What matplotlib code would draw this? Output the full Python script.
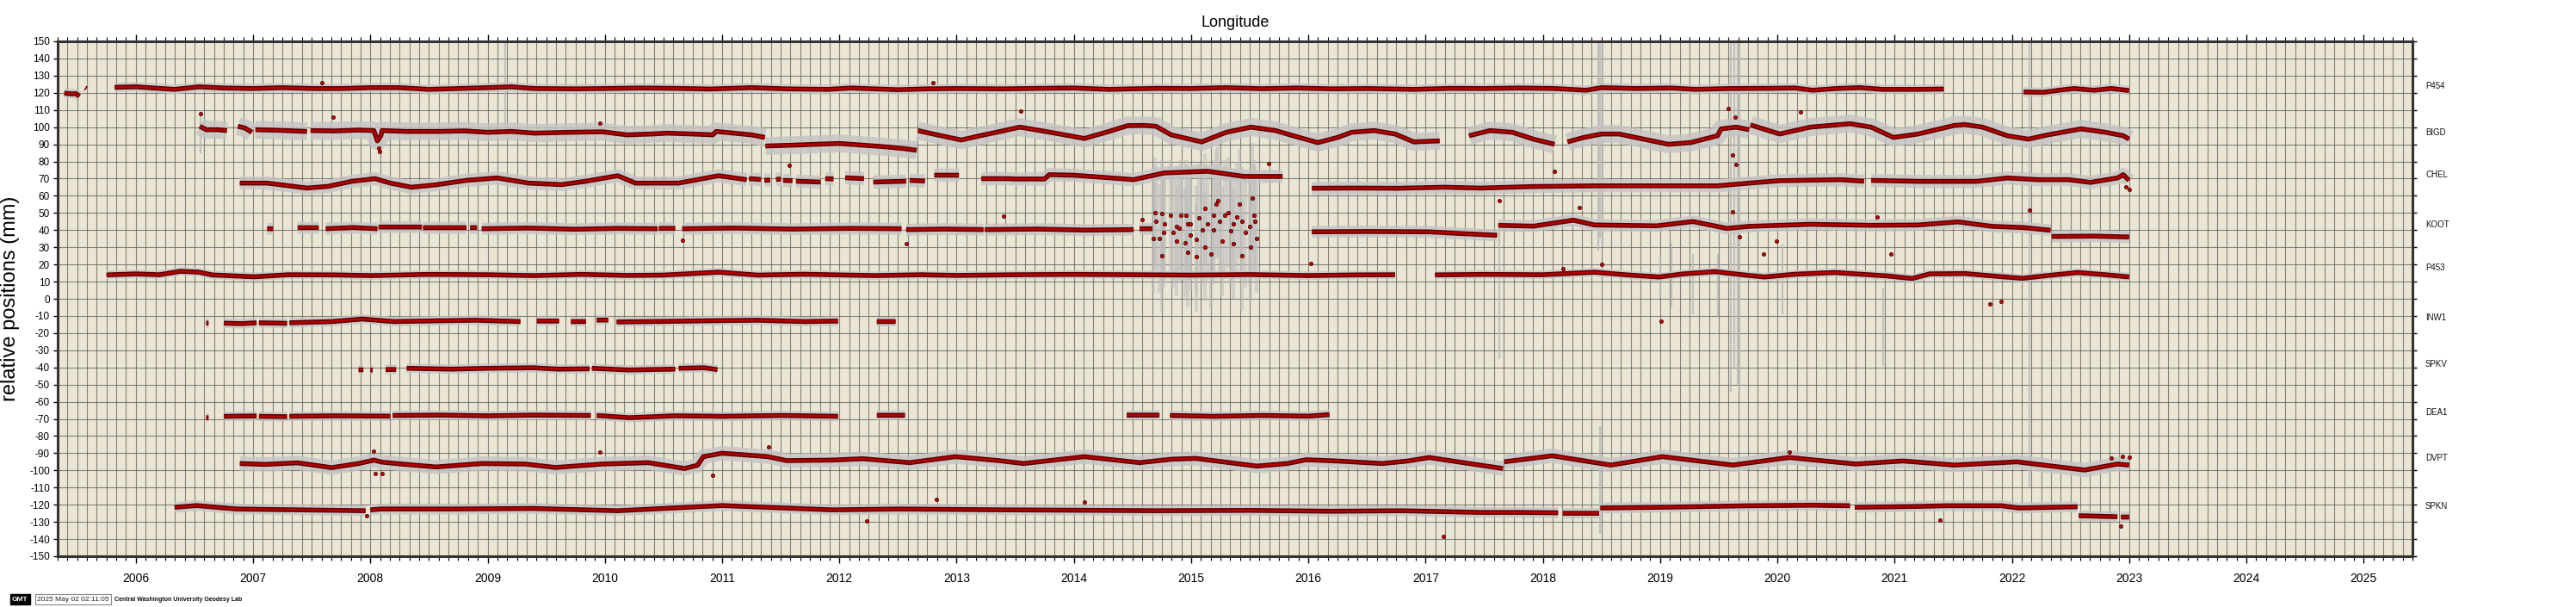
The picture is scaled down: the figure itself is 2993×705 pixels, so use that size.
import matplotlib
matplotlib.use("Agg")
import matplotlib.pyplot as plt
import numpy as np

nan = np.nan

# ---- station time series (decimal year, mm), nan = gap ----
p454_t = [2005.39, 2005.45, 2005.49, 2005.52, nan, 2005.57, 2005.58, nan,
          2005.82, 2006.0, 2006.15, 2006.33, 2006.54, 2006.75, 2007.0, 2007.25, 2007.5, 2007.75,
          2008.0, 2008.25, 2008.5, 2008.75, 2009.0, 2009.2, 2009.4, 2009.75, 2010.0, 2010.3,
          2010.6, 2010.9, 2011.25, 2011.55, 2011.9, 2012.1, 2012.5, 2012.75, 2013.0, 2013.4,
          2013.7, 2014.0, 2014.3, 2014.7, 2015.0, 2015.3, 2015.6, 2015.9, 2016.2, 2016.5,
          2016.9, 2017.2, 2017.5, 2017.8, 2018.1, 2018.37, 2018.5, 2018.8, 2019.1, 2019.3,
          2019.6, 2019.9, 2020.15, 2020.3, 2020.5, 2020.7, 2020.9, 2021.2, 2021.42, nan,
          2022.1, 2022.27, 2022.4, 2022.53, 2022.7, 2022.85, 2023.0]
p454_v = [119.8, 119.4, 119.5, 118.0, nan, 123.0, 122.6, nan,
          123.2, 123.5, 122.8, 122.0, 123.5, 122.8, 122.5, 123.0, 122.5, 122.5,
          123.0, 123.0, 122.0, 122.5, 123.0, 123.5, 122.5, 122.3, 122.5, 122.8,
          122.6, 122.2, 123.0, 122.3, 122.0, 122.8, 121.8, 122.3, 122.5, 122.3,
          122.6, 122.8, 122.0, 122.6, 122.5, 123.0, 122.4, 122.8, 122.3, 122.5,
          122.0, 122.6, 122.5, 122.8, 122.5, 121.5, 123.0, 122.5, 122.8, 122.0,
          122.5, 122.6, 122.8, 121.5, 122.5, 123.0, 122.0, 122.0, 122.2, nan,
          120.5, 120.3, 121.5, 122.5, 121.5, 122.5, 121.3]

bigd_t = [2006.545, 2006.6, 2006.7, 2006.777, nan, 2006.87, 2006.93, 2006.99, nan,
          2007.02, 2007.2, 2007.46, nan, 2007.49, 2007.7, 2007.9, 2008.03, 2008.06, 2008.09,
          2008.1, 2008.3, 2008.6, 2008.8, 2009.0, 2009.2, 2009.4, 2009.7, 2009.98, 2010.19,
          2010.4, 2010.53, 2010.75, 2010.92, 2010.95, 2011.1, 2011.25, 2011.365, nan,
          2011.37, 2011.6, 2011.8, 2012.0, 2012.2, 2012.4, 2012.55, 2012.66, nan,
          2012.67, 2012.8, 2013.04, 2013.2, 2013.36, 2013.54, 2013.8, 2014.09, 2014.3, 2014.46,
          2014.6, 2014.7, 2014.83, 2015.09, 2015.3, 2015.51, 2015.72, 2015.87, 2016.08, 2016.25,
          2016.37, 2016.56, 2016.74, 2016.9, 2017.12, nan, 2017.37, 2017.55, 2017.74, 2017.92,
          2018.1, nan, 2018.21, 2018.35, 2018.5, 2018.65, 2018.86, 2019.07, 2019.26, 2019.49,
          2019.52, 2019.65, 2019.76, nan, 2019.77, 2020.02, 2020.28, 2020.62, 2020.8, 2020.99,
          2021.2, 2021.51, 2021.6, 2021.75, 2021.96, 2022.14, 2022.3, 2022.59, 2022.8, 2022.95, 2023.0]
bigd_v = [100.5, 98.5, 98.5, 98.0, nan, 100.5, 99.5, 97.0, nan,
          98.5, 98.2, 97.5, nan, 98.0, 97.8, 98.3, 98.0, 92.0, 95.0,
          98.0, 97.5, 97.5, 97.8, 97.0, 97.5, 96.5, 97.0, 97.3, 95.5,
          96.0, 96.5, 96.0, 95.5, 97.5, 96.5, 95.5, 94.0, nan,
          89.0, 89.5, 90.0, 90.5, 89.5, 88.5, 87.5, 86.5, nan,
          98.0, 96.0, 92.5, 95.0, 97.3, 100.0, 97.0, 93.4, 97.5, 100.9,
          101.0, 100.5, 95.5, 91.4, 97.0, 100.0, 98.0, 95.0, 91.0, 94.0,
          97.0, 98.0, 96.0, 91.4, 92.0, nan, 95.0, 98.0, 97.0, 93.0,
          90.0, nan, 91.4, 94.0, 96.0, 96.0, 93.0, 90.0, 91.0, 95.0,
          99.0, 100.0, 98.5, nan, 101.3, 96.0, 100.0, 102.0, 100.0, 94.0,
          96.0, 101.0, 101.5, 100.0, 95.0, 93.0, 95.4, 99.0, 97.0, 95.0, 93.0]

chel_t = [2006.887, 2007.12, 2007.46, 2007.64, 2007.84, 2008.04, 2008.17, 2008.35, 2008.56,
          2008.82, 2009.08, 2009.35, 2009.63, 2009.84, 2010.11, 2010.26, 2010.63, 2010.97, 2011.21, nan,
          2011.23, 2011.33, nan, 2011.36, 2011.41, nan, 2011.46, 2011.5, nan, 2011.52, 2011.6, nan,
          2011.63, 2011.84, nan, 2011.88, 2011.95, nan, 2012.05, 2012.21, nan, 2012.29, 2012.57, nan,
          2012.6, 2012.73, nan, 2012.81, 2013.02, nan, 2013.21, 2013.43, 2013.51, 2013.75, 2013.79,
          2014.0, 2014.3, 2014.51, 2014.77, 2015.14, 2015.45, 2015.78, nan,
          2016.03, 2016.37, 2016.77, 2017.16, 2017.47, 2017.92, 2018.44, 2018.97, 2019.49, 2019.76,
          2020.02, 2020.54, 2020.74, nan, 2020.8, 2021.2, 2021.7, 2021.96, 2022.22, 2022.48, 2022.67,
          2022.9, 2022.95, 2023.0]
chel_v = [67.4, 67.4, 64.5, 65.5, 68.4, 70.0, 67.4, 65.0, 66.4,
          69.0, 70.4, 67.4, 66.5, 68.5, 71.7, 67.4, 67.4, 71.7, 69.4, nan,
          70.0, 69.5, nan, 69.0, 69.2, nan, 69.5, 69.8, nan, 69.0, 68.8, nan,
          68.5, 68.0, nan, 70.0, 69.8, nan, 70.5, 70.0, nan, 68.0, 68.5, nan,
          69.0, 68.6, nan, 72.0, 72.0, nan, 70.0, 70.0, 69.8, 69.8, 72.3,
          72.0, 70.5, 69.4, 73.3, 74.3, 71.3, 71.3, nan,
          64.4, 64.5, 64.4, 65.0, 64.5, 65.4, 65.8, 65.8, 65.8, 67.4,
          68.8, 69.4, 68.5, nan, 69.0, 68.4, 68.4, 70.4, 69.4, 69.4, 67.8,
          70.4, 72.3, 69.0]

koot_t = [2007.12, 2007.17, nan, 2007.38, 2007.56, nan, 2007.62, 2007.85, 2008.06, nan,
          2008.07, 2008.44, nan, 2008.45, 2008.82, nan, 2008.85, 2008.91, nan,
          2008.95, 2009.35, 2009.75, 2010.1, 2010.45, nan, 2010.46, 2010.6, nan,
          2010.66, 2011.1, 2011.6, 2012.1, 2012.53, nan, 2012.57, 2012.9, 2013.23, nan,
          2013.24, 2013.7, 2014.1, 2014.51, nan, 2014.56, 2014.67, nan,
          2016.03, 2016.5, 2017.03, 2017.3, 2017.61, nan, 2017.62, 2017.92, 2018.26, 2018.44,
          2018.97, 2019.28, 2019.57, 2019.76, 2020.28, 2020.8, 2021.2, 2021.54, 2021.83, 2022.1,
          2022.33, nan, 2022.34, 2022.7, 2023.0]
koot_v = [40.8, 40.8, nan, 41.4, 41.4, nan, 40.8, 41.5, 40.8, nan,
          41.8, 41.8, nan, 41.4, 41.4, nan, 41.4, 41.4, nan,
          40.8, 41.2, 40.5, 41.0, 40.8, nan, 41.0, 41.0, nan,
          40.8, 41.2, 40.6, 41.0, 40.8, nan, 40.3, 40.6, 40.3, nan,
          40.3, 40.6, 40.0, 40.3, nan, 40.8, 40.8, nan,
          39.0, 39.2, 39.0, 38.0, 37.0, nan, 42.8, 42.3, 45.8, 43.0,
          42.5, 45.0, 41.0, 42.2, 43.4, 42.8, 43.0, 44.8, 42.2, 41.5,
          39.9, nan, 36.3, 36.5, 36.0]

# KOOT noisy interval 2014.7-2015.6 (individual points)
koot_noise_t = [2014.69, 2014.751, 2014.825, 2014.874, 2014.910, 2014.959, 2014.971, 2014.776,
                2014.702, 2014.727, 2014.763, 2014.849, 2014.898, 2014.947, 2014.996, 2015.045,
                2015.094, 2015.118, 2015.143, 2015.192, 2015.216, 2015.228, 2015.241, 2015.290,
                2015.314, 2015.363, 2015.388, 2015.412, 2015.436, 2015.461, 2015.498, 2015.522,
                2015.534, 2015.547, 2015.559, 2014.751, 2014.971, 2015.045, 2015.167, 2015.436,
                2015.510, 2015.118, 2014.874, 2014.678, 2015.265, 2015.363, 2014.996, 2015.069,
                2015.192, 2015.339]
koot_noise_v = [50.3, 49.5, 48.6, 42.0, 48.6, 48.6, 43.6, 43.6,
                45.3, 35.3, 38.6, 38.6, 41.1, 32.8, 37.0, 34.4,
                40.3, 52.8, 43.6, 40.3, 55.3, 57.0, 45.3, 48.6,
                50.3, 43.6, 47.8, 55.3, 45.3, 38.6, 42.0, 58.7,
                48.6, 45.3, 35.3, 25.2, 26.9, 24.4, 26.1, 25.2,
                30.3, 30.3, 33.6, 35.3, 33.6, 31.9, 43.6, 47.0,
                48.6, 39.5]

p453_t = [2005.75, 2006.0, 2006.2, 2006.38, 2006.54, 2006.65, 2007.01, 2007.3, 2007.7, 2008.0,
          2008.5, 2009.0, 2009.4, 2009.8, 2010.2, 2010.5, 2010.97, 2011.3, 2011.7, 2012.0,
          2012.3, 2012.7, 2013.0, 2013.5, 2014.0, 2014.5, 2015.0, 2015.5, 2016.0, 2016.4,
          2016.74, nan, 2017.08, 2017.5, 2018.0, 2018.44, 2018.7, 2018.99, 2019.2, 2019.47,
          2019.7, 2019.89, 2020.15, 2020.49, 2020.94, 2021.15, 2021.3, 2021.6, 2021.8, 2022.09,
          2022.3, 2022.56, 2022.8, 2023.0]
p453_v = [13.9, 14.5, 14.0, 16.0, 15.5, 13.9, 12.8, 14.0, 13.9, 13.5,
          14.2, 14.0, 13.5, 14.2, 13.6, 13.8, 15.5, 13.8, 14.3, 13.9,
          13.5, 14.0, 13.6, 14.0, 14.2, 14.0, 13.8, 14.1, 13.5, 13.9,
          14.0, nan, 13.9, 14.2, 14.0, 15.5, 14.0, 12.7, 14.5, 15.8,
          14.0, 12.7, 14.3, 15.3, 13.3, 11.8, 14.5, 14.7, 13.5, 11.9,
          13.5, 15.3, 14.0, 12.7]

inw1_t = [2006.6, 2006.62, nan, 2006.75, 2006.9, 2007.03, nan, 2007.05, 2007.29, nan,
          2007.31, 2007.67, 2007.93, 2008.2, 2008.6, 2008.9, 2009.28, nan, 2009.42, 2009.61, nan,
          2009.71, 2009.84, nan, 2009.93, 2010.03, nan, 2010.1, 2010.5, 2010.9, 2011.3, 2011.7,
          2011.99, nan, 2012.32, 2012.48]
inw1_v = [-14.2, -14.2, nan, -14.2, -14.5, -14.0, nan, -14.0, -14.3, nan,
          -14.0, -13.3, -11.8, -13.3, -12.8, -12.5, -13.3, nan, -13.0, -13.0, nan,
          -13.3, -13.3, nan, -12.4, -12.4, nan, -13.5, -13.2, -12.8, -12.5, -13.3,
          -13.0, nan, -13.3, -13.3]

spkv_t = [2007.9, 2007.94, nan, 2008.0, 2008.02, nan, 2008.13, 2008.22, nan,
          2008.31, 2008.7, 2009.0, 2009.39, 2009.6, 2009.87, nan, 2009.89, 2010.2, 2010.6, nan,
          2010.63, 2010.85, 2010.96]
spkv_v = [-41.4, -41.4, nan, -41.5, -41.5, nan, -41.2, -41.2, nan,
          -40.5, -41.0, -40.5, -40.2, -41.0, -40.8, nan, -40.5, -41.5, -41.0, nan,
          -40.5, -40.2, -41.3]

dea1_t = [2006.6, 2006.62, nan, 2006.75, 2007.03, nan, 2007.05, 2007.29, nan,
          2007.31, 2007.7, 2008.17, nan, 2008.19, 2008.6, 2009.0, 2009.39, 2009.88, nan,
          2009.93, 2010.21, 2010.6, 2011.0, 2011.5, 2011.99, nan, 2012.32, 2012.56, nan,
          2014.45, 2014.73, nan, 2014.82, 2015.2, 2015.6, 2016.0, 2016.18]
dea1_v = [-69.3, -69.3, nan, -68.5, -68.3, nan, -68.5, -68.7, nan,
          -68.5, -68.2, -68.4, nan, -68.0, -67.8, -68.2, -67.8, -68.0, nan,
          -68.0, -69.3, -68.2, -68.5, -68.0, -68.5, nan, -67.9, -67.9, nan,
          -67.8, -67.8, nan, -68.0, -68.5, -68.0, -68.4, -67.5]

dvpt_t = [2006.887, 2007.1, 2007.38, 2007.67, 2007.9, 2008.03, 2008.1, 2008.3, 2008.56, 2008.95,
          2009.32, 2009.58, 2009.98, 2010.37, 2010.68, 2010.79, 2010.84, 2011.0, 2011.2, 2011.39,
          2011.55, 2011.94, 2012.2, 2012.6, 2012.99, 2013.36, 2013.57, 2014.09, 2014.56, 2014.83,
          2015.04, 2015.56, 2015.82, 2015.98, 2016.24, 2016.63, 2016.85, 2017.03, 2017.4, 2017.66, nan,
          2017.67, 2018.08, 2018.58, 2019.02, 2019.62, 2020.1, 2020.67, 2021.07, 2021.51, 2021.91,
          2022.04, 2022.62, 2022.9, 2023.0]
dvpt_v = [-96.0, -96.5, -95.6, -98.4, -96.0, -94.0, -95.2, -96.5, -98.0, -96.0,
          -96.3, -98.3, -96.3, -95.5, -98.9, -97.0, -92.0, -90.0, -91.0, -92.0,
          -94.3, -94.0, -93.2, -95.5, -92.0, -94.3, -96.0, -92.0, -95.5, -93.5,
          -93.0, -97.5, -96.0, -93.8, -94.5, -96.0, -94.5, -92.5, -96.3, -98.9, nan,
          -95.0, -91.5, -96.9, -92.0, -96.9, -92.5, -96.3, -94.5, -96.9, -95.5,
          -95.0, -99.8, -96.3, -96.9]

spkn_t = [2006.33, 2006.52, 2006.86, 2007.4, 2007.96, nan, 2008.0, 2008.09, 2008.69, 2009.39,
          2010.11, 2011.0, 2011.94, 2012.5, 2013.43, 2014.0, 2014.7, 2015.5, 2016.2, 2016.8,
          2017.47, 2017.8, 2018.13, nan, 2018.17, 2018.48, nan, 2018.49, 2019.0, 2019.76, 2020.3,
          2020.62, nan, 2020.66, 2021.2, 2021.43, 2021.91, 2022.06, 2022.56, nan, 2022.57, 2022.9,
          nan, 2022.93, 2023.0]
spkn_v = [-121.5, -120.5, -122.5, -123.0, -123.5, nan, -123.0, -122.5, -122.5, -122.2,
          -123.5, -120.5, -123.0, -122.5, -123.0, -123.2, -123.5, -123.3, -123.8, -123.5,
          -124.5, -124.5, -124.7, nan, -125.0, -125.0, nan, -121.9, -121.5, -120.6, -120.3,
          -120.6, nan, -121.5, -121.0, -120.6, -120.6, -121.9, -121.2, nan, -126.4, -127.0,
          nan, -127.2, -127.2]

stations = ["P454", "BIGD", "CHEL", "KOOT", "P453", "INW1", "SPKV", "DEA1", "DVPT", "SPKN"]
label_mm = [124, 97, 72, 43, 18, -11, -38, -66, -93, -121]
series_t = [p454_t, bigd_t, chel_t, koot_t, p453_t, inw1_t, spkv_t, dea1_t, dvpt_t, spkn_t]
series_v = [p454_v, bigd_v, chel_v, koot_v, p453_v, inw1_v, spkv_v, dea1_v, dvpt_v, spkn_v]
halo_w = [8, 15, 11, 10, 7, 8, 8, 8, 12, 9]

# isolated outlier points
out_t = [2007.59, 2012.80, 2006.55, 2007.68, 2009.96, 2013.55, 2020.2, 2019.58, 2019.64, 2019.62,
         2019.65, 2008.07, 2008.08, 2015.66, 2011.57, 2018.1, 2017.63, 2018.31, 2022.15, 2022.97,
         2023.0, 2019.62, 2019.68, 2019.88, 2019.99, 2020.97, 2020.85, 2010.66, 2012.57, 2013.4,
         2014.58, 2019.01, 2021.81, 2021.91, 2016.02, 2018.5, 2018.17, 2009.96, 2011.4, 2008.03,
         2008.1, 2008.04, 2010.92, 2020.1, 2022.85, 2022.94, 2023.0, 2017.15, 2014.09, 2012.23,
         2012.83, 2022.93, 2007.97, 2021.39]
out_v = [126.0, 126.0, 107.7, 105.8, 102.4, 109.5, 108.7, 110.7, 106.0, 84.0,
         78.2, 88.0, 86.0, 78.6, 77.6, 74.3, 57.2, 53.0, 51.6, 65.4,
         63.5, 50.7, 36.0, 26.0, 33.5, 26.0, 47.7, 34.0, 32.0, 48.3,
         46.3, -12.9, -2.9, -1.3, 20.7, 20.3, 17.6, -89.1, -86.5, -89.0,
         -101.9, -101.9, -102.9, -89.1, -93.0, -92.0, -92.4, -138.7, -118.6, -129.5,
         -117.0, -132.4, -126.5, -128.9]

# long grey error bars (year, low, high)
bar_t = [2018.47, 2018.49, 2018.51, 2018.49, 2019.60, 2019.63, 2019.66, 2019.68, 2017.63,
         2022.15, 2019.00, 2019.10, 2019.28, 2019.49, 2020.04, 2020.90, 2009.15, 2006.55]
bar_lo = [28, 35, 30, -137, -54, -40, -50, -54, -35,
          -110, 0.5, -5, -9, -11, -9, -39, 100, 85]
bar_hi = [152, 150, 150, -74, 154, 150, 154, 152, 44,
          152, 24, 32, 26, 26, 32, 6, 156, 110]

years = list(range(2006, 2026))

plt.rcParams['font.family'] = ['Liberation Sans', 'DejaVu Sans']

fig = plt.figure(figsize=(29.93, 7.05), dpi=100)
ax = fig.add_axes([67 / 2993, 1 - 646 / 705, (2803 - 67) / 2993, (646 - 48) / 705])
ax.set_facecolor('#ebe6d4')
ax.set_xlim(2005 + 4 / 12, 2025 + 5 / 12)
ax.set_ylim(-150, 150)

# grid: monthly vertical, 10 mm horizontal
ax.set_xticks(np.arange(2005 + 4 / 12, 2025.42, 1 / 12), minor=True)
ax.set_xticks(years)
ax.set_xticklabels([str(y) for y in years], fontsize=10)
ax.set_yticks(np.arange(-150, 151, 10))
ax.set_yticklabels([str(v) for v in range(-150, 151, 10)], fontsize=8.5)
ax.grid(True, which='both', color='#555555', lw=0.8, alpha=0.7, zorder=0)
ax.set_axisbelow(True)
ax.tick_params(axis='x', which='major', top=True, direction='out', length=6, width=1, pad=8)
ax.tick_params(axis='x', which='minor', top=True, direction='out', length=3.5, width=0.8)
ax.tick_params(axis='y', which='major', right=True, direction='out', length=3.5, width=1, pad=3)
for sp in ax.spines.values():
    sp.set_linewidth(2.2)
    sp.set_color('#333333')

# error bars
ax.vlines(bar_t, bar_lo, bar_hi, colors='#b8b8b8', lw=1.6, alpha=0.8, zorder=2)
ax.vlines(koot_noise_t, np.array(koot_noise_v) - 32, np.array(koot_noise_v) + 32,
          colors='#bdbdbd', lw=3, alpha=0.55, zorder=2)

# station series
for t, v, w in zip(series_t, series_v, halo_w):
    ax.plot(t, v, color='#c4c4c4', lw=w, solid_capstyle='butt', alpha=0.8, zorder=3)
    ax.plot(t, v, color='#5a0000', lw=4.0, solid_capstyle='butt', zorder=4)
    ax.plot(t, v, color='#c00000', lw=1.8, solid_capstyle='butt', alpha=0.9, zorder=5)

ax.scatter(koot_noise_t, koot_noise_v, s=10, c='#cc0000', edgecolors='#220000', linewidths=0.5, zorder=6)
ax.scatter(out_t, out_v, s=9, c='#cc0000', edgecolors='#220000', linewidths=0.5, zorder=6)

# station names on the right
for name, mm in zip(stations, label_mm):
    ax.text(1.0055, mm, name, transform=ax.get_yaxis_transform(), fontsize=7,
            va='center', ha='left', color='#111111')

ax.set_title('Longitude', fontsize=13, pad=12)
ax.set_ylabel('relative positions (mm)', fontsize=17, labelpad=8)

# GMT time stamp
fig.text(14 / 2993, 1 - 696 / 705, 'GMT', fontsize=6, color='white', weight='bold', va='center',
         bbox=dict(boxstyle='square,pad=0.25', fc='black', ec='black'))
fig.text(43 / 2993, 1 - 696 / 705, '2025 May 02 02:11:05', fontsize=6, color='#222222', va='center',
         bbox=dict(boxstyle='square,pad=0.25', fc='white', ec='#888888', lw=0.8))
fig.text(133 / 2993, 1 - 696 / 705, 'Central Washington University Geodesy Lab', fontsize=5,
         weight='bold', va='center', color='#111111')

fig.savefig('out.png', dpi=100, facecolor='white')
